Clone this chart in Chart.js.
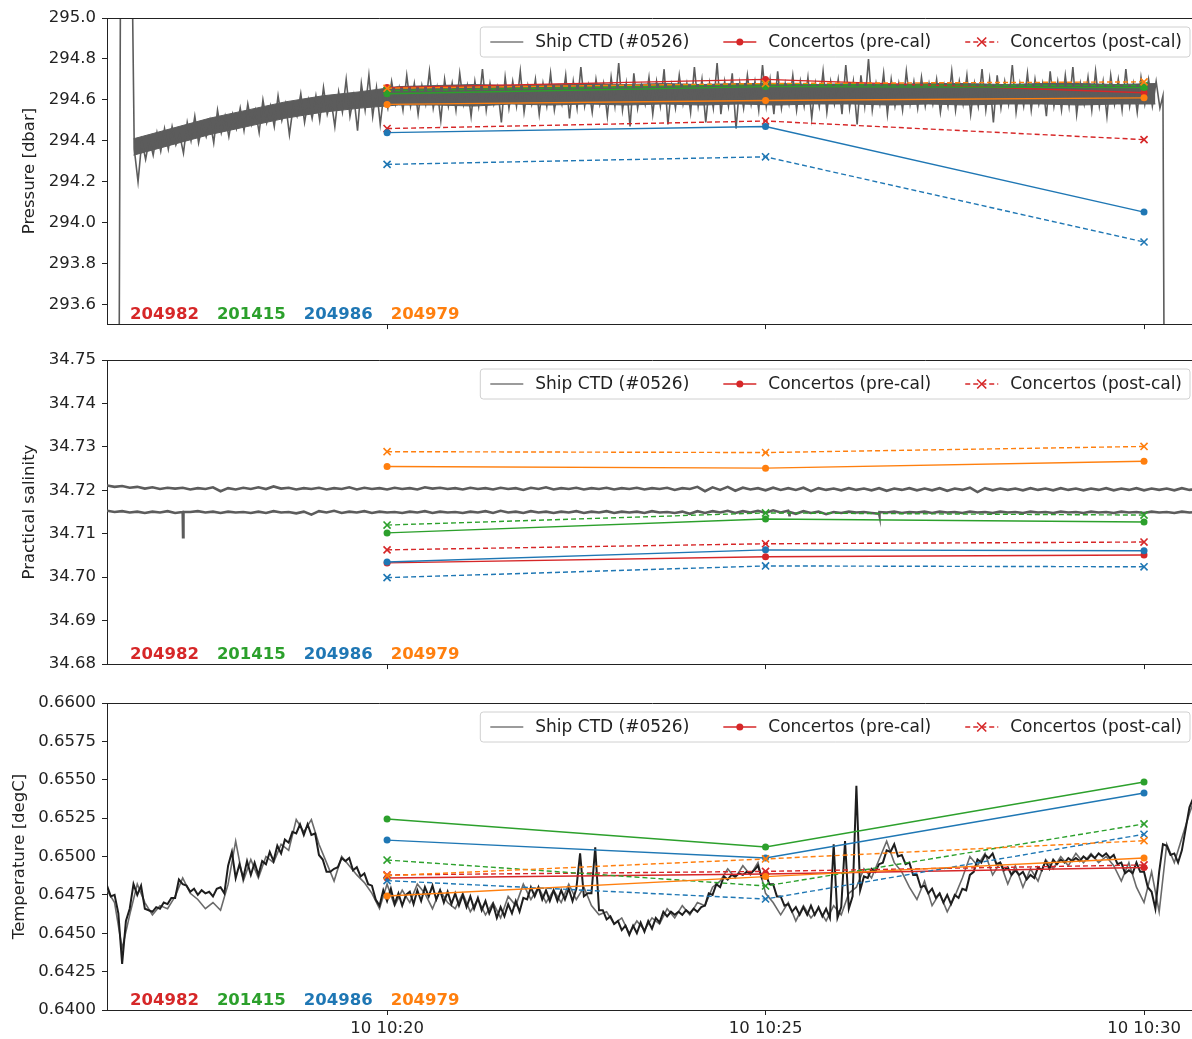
<!DOCTYPE html>
<html><head><meta charset="utf-8">
<script src="https://cdn.jsdelivr.net/npm/chart.js@4"></script>
<style>
html,body{margin:0;padding:0;background:#fff;overflow:hidden;width:1192px;height:1039px;position:relative;}
canvas{position:absolute;left:0;}
</style></head><body>
<canvas id="c1" style="top:0px"></canvas>
<canvas id="c2" style="top:340px"></canvas>
<canvas id="c3" style="top:680px"></canvas>
<script>
// ---- axes / labels ----
const xTickValues = [20, 25, 30];              // minutes after 10:00 (day 10)
const xTickLabels = ['10 10:20', '10 10:25', '10 10:30'];
const pressureTicks = [293.6, 293.8, 294.0, 294.2, 294.4, 294.6, 294.8, 295.0];
const salinityTicks = [34.68, 34.69, 34.70, 34.71, 34.72, 34.73, 34.74, 34.75];
const temperatureTicks = [0.64, 0.6425, 0.645, 0.6475, 0.65, 0.6525, 0.655, 0.6575, 0.66];
const legendLabels = ['Ship CTD (#0526)', 'Concertos (pre-cal)', 'Concertos (post-cal)'];

// ---- Concerto instruments ----
const serials = ['204982', '201415', '204986', '204979'];
const serialColors = ['#d62728', '#2ca02c', '#1f77b4', '#ff7f0e'];
const concertoTimes = [20, 25, 30];

const pressurePre = [
  [294.66, 294.70, 294.635],
  [294.63, 294.665, 294.66],
  [294.44, 294.47, 294.052],
  [294.578, 294.597, 294.61]
];
const pressurePost = [
  [294.46, 294.497, 294.406],
  [294.645, 294.675, 294.67],
  [294.285, 294.322, 293.906],
  [294.657, 294.68, 294.688]
];
const salinityPre = [
  [34.7033, 34.7047, 34.7051],
  [34.7102, 34.7134, 34.7127],
  [34.7035, 34.7063, 34.7061],
  [34.7255, 34.7251, 34.7267]
];
const salinityPost = [
  [34.7063, 34.7077, 34.7081],
  [34.7120, 34.7148, 34.7143],
  [34.6999, 34.7026, 34.7024],
  [34.7289, 34.7287, 34.7301]
];
const temperaturePre = [
  [0.64860, 0.64886, 0.64928],
  [0.65244, 0.65062, 0.65485],
  [0.65107, 0.64990, 0.65414],
  [0.64743, 0.64869, 0.64990]
];
const temperaturePost = [
  [0.64880, 0.64903, 0.64945],
  [0.64977, 0.64808, 0.65212],
  [0.64843, 0.64723, 0.65145],
  [0.64875, 0.64984, 0.65103]
];

// ---- Ship CTD traces ----
const ctdPresHeadT = [16.30, 16.46, 16.48, 16.62];
const ctdPresHeadV = [292.8, 293.3, 295.4, 295.6];
const ctdPresStart = 16.66, ctdPresStep = 0.05;
const ctdPressure = [
294.36, 294.20, 294.40, 294.31, 294.41, 294.33, 294.44,
294.35, 294.46, 294.36, 294.47, 294.38, 294.43, 294.34, 294.49, 294.40, 294.52, 294.39, 294.48, 294.42, 294.50, 294.39, 294.55, 294.44, 294.52, 294.42, 294.53,
294.46, 294.56, 294.45, 294.58, 294.48, 294.55, 294.44, 294.60, 294.49, 294.57, 294.47, 294.62, 294.50, 294.58, 294.43, 294.57, 294.52, 294.63, 294.49, 294.60,
294.51, 294.62, 294.50, 294.66, 294.53, 294.60, 294.47, 294.64, 294.54, 294.70, 294.52, 294.62, 294.45, 294.68, 294.55, 294.72, 294.52, 294.66, 294.48, 294.64,
294.56, 294.69, 294.58, 294.66, 294.55, 294.72, 294.57, 294.68, 294.53, 294.67, 294.58, 294.74, 294.56, 294.66, 294.50, 294.70, 294.57, 294.68, 294.55, 294.73,
294.58, 294.67, 294.52, 294.69, 294.57, 294.75, 294.55, 294.68, 294.58, 294.66, 294.49, 294.71, 294.56, 294.69, 294.57, 294.74, 294.54, 294.67, 294.58, 294.70,
294.53, 294.68, 294.57, 294.73, 294.55, 294.66, 294.58, 294.72, 294.51, 294.69, 294.56, 294.76, 294.57, 294.67, 294.54, 294.70, 294.58, 294.68, 294.52, 294.71,
294.57, 294.78, 294.55, 294.68, 294.47, 294.73, 294.56, 294.67, 294.58, 294.71, 294.53, 294.69, 294.57, 294.75, 294.48, 294.67, 294.56, 294.72, 294.58, 294.68,
294.54, 294.76, 294.57, 294.70, 294.49, 294.68, 294.56, 294.78, 294.53, 294.69, 294.57, 294.73, 294.46, 294.68, 294.56, 294.72, 294.58, 294.69, 294.55, 294.77,
294.57, 294.70, 294.53, 294.74, 294.56, 294.68, 294.58, 294.72, 294.55, 294.69, 294.57, 294.71, 294.51, 294.68, 294.57, 294.74, 294.54, 294.69, 294.58, 294.70,
294.53, 294.77, 294.56, 294.69, 294.48, 294.72, 294.57, 294.80, 294.55, 294.68, 294.58, 294.73, 294.53, 294.70, 294.57, 294.68, 294.55, 294.74, 294.58, 294.69,
294.56, 294.71, 294.57, 294.68, 294.58, 294.70, 294.54, 294.67, 294.57, 294.74, 294.55, 294.69, 294.58, 294.72, 294.53, 294.68, 294.57, 294.75, 294.55, 294.70,
294.49, 294.72, 294.56, 294.69, 294.58, 294.77, 294.54, 294.68, 294.57, 294.73, 294.55, 294.70, 294.58, 294.68, 294.52, 294.74, 294.57, 294.69, 294.55, 294.72,
294.57, 294.76, 294.53, 294.68, 294.58, 294.71, 294.55, 294.74, 294.57, 294.69, 294.52, 294.72, 294.58, 294.70, 294.55, 294.75, 294.57, 294.68, 294.54, 294.71,
294.58, 294.70, 294.57, 294.69, 294.56
];
const ctdPresTailT = [30.25, 30.27];
const ctdPresTailV = [294.62, 292.9];
// dense core of the pressure record (lower / upper edge), every 0.5 min
const ctdPresCoreStart = 16.65, ctdPresCoreStep = 0.5;
const ctdPresCoreLow = [294.33, 294.38, 294.43, 294.47, 294.51, 294.54, 294.56, 294.575, 294.575, 294.57, 294.58, 294.575, 294.58, 294.575,
  294.58, 294.575, 294.58, 294.575, 294.58, 294.58, 294.575, 294.58, 294.575, 294.58, 294.58, 294.575, 294.58, 294.58];
const ctdPresCoreHigh = [294.41, 294.46, 294.51, 294.55, 294.59, 294.62, 294.64, 294.665, 294.67, 294.675, 294.67, 294.675, 294.68, 294.675,
  294.68, 294.675, 294.68, 294.68, 294.675, 294.68, 294.675, 294.68, 294.68, 294.675, 294.68, 294.68, 294.675, 294.68];

const ctdSalStart = 16.30, ctdSalStep = 0.1;
const ctdSalinityUpper = [
34.7211, 34.7208, 34.7210, 34.7206, 34.7208, 34.7204, 34.7207, 34.7203, 34.7206, 34.7204,
34.7206, 34.7202, 34.7205, 34.7203, 34.7207, 34.7198, 34.7205, 34.7202, 34.7206, 34.7203,
34.7207, 34.7203, 34.7209, 34.7204, 34.7206, 34.7202, 34.7205, 34.7203, 34.7206, 34.7202,
34.7205, 34.7203, 34.7207, 34.7202, 34.7206, 34.7203, 34.7205, 34.7202, 34.7206, 34.7203,
34.7205, 34.7202, 34.7207, 34.7204, 34.7206, 34.7203, 34.7205, 34.7202, 34.7206, 34.7203,
34.7205, 34.7202, 34.7206, 34.7203, 34.7205, 34.7201, 34.7206, 34.7203, 34.7207, 34.7202,
34.7205, 34.7203, 34.7206, 34.7202, 34.7205, 34.7203, 34.7206, 34.7202, 34.7205, 34.7203,
34.7206, 34.7202, 34.7205, 34.7203, 34.7206, 34.7201, 34.7205, 34.7203, 34.7208, 34.7198,
34.7207, 34.7201, 34.7208, 34.7199, 34.7206, 34.7202, 34.7205, 34.7200, 34.7206, 34.7201,
34.7205, 34.7201, 34.7206, 34.7198, 34.7205, 34.7201, 34.7204, 34.7200, 34.7205, 34.7201,
34.7204, 34.7200, 34.7205, 34.7199, 34.7204, 34.7201, 34.7205, 34.7200, 34.7204, 34.7200,
34.7205, 34.7199, 34.7204, 34.7201, 34.7206, 34.7196, 34.7205, 34.7200, 34.7204, 34.7201,
34.7204, 34.7200, 34.7205, 34.7201, 34.7204, 34.7200, 34.7205, 34.7201, 34.7204, 34.7200,
34.7204, 34.7201, 34.7205, 34.7200, 34.7204, 34.7201, 34.7205, 34.7200, 34.7204, 34.7201,
34.7204, 34.7200, 34.7205, 34.7201, 34.7203
];
const ctdSalinityLower = [
34.7153, 34.7150, 34.7152, 34.7149, 34.7151, 34.7148, 34.7151, 34.7149, 34.7152, 34.7148,
34.7150, 34.7150, 34.7152, 34.7149, 34.7151, 34.7148, 34.7151, 34.7149, 34.7150, 34.7148,
34.7151, 34.7148, 34.7152, 34.7149, 34.7150, 34.7147, 34.7151, 34.7144, 34.7152, 34.7149,
34.7153, 34.7148, 34.7151, 34.7149, 34.7152, 34.7148, 34.7151, 34.7149, 34.7150, 34.7148,
34.7151, 34.7149, 34.7152, 34.7148, 34.7151, 34.7149, 34.7150, 34.7148, 34.7151, 34.7149,
34.7152, 34.7148, 34.7153, 34.7149, 34.7151, 34.7148, 34.7152, 34.7149, 34.7151, 34.7148,
34.7151, 34.7149, 34.7152, 34.7148, 34.7151, 34.7149, 34.7152, 34.7148, 34.7151, 34.7149,
34.7151, 34.7148, 34.7152, 34.7149, 34.7150, 34.7148, 34.7151, 34.7146, 34.7152, 34.7148,
34.7152, 34.7149, 34.7153, 34.7148, 34.7152, 34.7149, 34.7153, 34.7148, 34.7154, 34.7149,
34.7153, 34.7146, 34.7152, 34.7148, 34.7151, 34.7145, 34.7150, 34.7148, 34.7151, 34.7149,
34.7150, 34.7148, 34.7146, 34.7149, 34.7151, 34.7148, 34.7150, 34.7149, 34.7151, 34.7148,
34.7151, 34.7149, 34.7150, 34.7148, 34.7151, 34.7149, 34.7150, 34.7148, 34.7151, 34.7149,
34.7150, 34.7148, 34.7151, 34.7149, 34.7150, 34.7148, 34.7151, 34.7149, 34.7150, 34.7148,
34.7151, 34.7149, 34.7150, 34.7148, 34.7151, 34.7149, 34.7150, 34.7148, 34.7151, 34.7149,
34.7150, 34.7148, 34.7151, 34.7149, 34.7150
];
// short spikes in the lower salinity record
const ctdSalSpikeT = [17.30, 17.305, 17.31, 25.31, 25.315, 25.32, 26.50, 26.505, 26.51];
const ctdSalSpikeV = [34.7150, 34.7092, 34.7150, 34.7150, 34.7140, 34.7150, 34.7150, 34.7142, 34.7150];

const ctdTempStart = 16.30, ctdTempBlackStep = 0.05, ctdTempGrayStep = 0.1;
const ctdTempBlack = [
0.6481, 0.6474, 0.6475, 0.6463, 0.6430, 0.6458, 0.6466, 0.6482, 0.6475, 0.6481, 0.6466, 0.6465, 0.6464, 0.6467, 0.6466, 0.6470, 0.6469, 0.6473, 0.6473, 0.6485,
0.6482, 0.6481, 0.6477, 0.6479, 0.6475, 0.6478, 0.6476, 0.6477, 0.6474, 0.6479, 0.6480, 0.6476, 0.6494, 0.6503, 0.6486, 0.6495, 0.6486, 0.6497, 0.6488, 0.6496,
0.6488, 0.6497, 0.6495, 0.6503, 0.6497, 0.6507, 0.6502, 0.6511, 0.6509, 0.6516, 0.6515, 0.6521, 0.6514, 0.6521, 0.6514, 0.6515, 0.6501, 0.6498, 0.6490, 0.6490,
0.6492, 0.6493, 0.6499, 0.6497, 0.6499, 0.6491, 0.6493, 0.6487, 0.6489, 0.6482, 0.6481, 0.6472, 0.6468, 0.6478, 0.6471, 0.6479, 0.6469, 0.6476, 0.6468, 0.6475,
0.6477, 0.6469, 0.6478, 0.6471, 0.6480, 0.6474, 0.6481, 0.6472, 0.6478, 0.6470, 0.6477, 0.6469, 0.6476, 0.6468, 0.6475, 0.6467, 0.6474, 0.6466, 0.6473, 0.6465,
0.6471, 0.6463, 0.6469, 0.6460, 0.6467, 0.6461, 0.6469, 0.6463, 0.6471, 0.6464, 0.6473, 0.6472, 0.6480, 0.6474, 0.6480, 0.6472, 0.6478, 0.6471, 0.6478, 0.6471,
0.6478, 0.6472, 0.6479, 0.6471, 0.6479, 0.6502, 0.6474, 0.6476, 0.6476, 0.6506, 0.6465, 0.6465, 0.6459, 0.6461, 0.6456, 0.6458, 0.6452, 0.6455, 0.6449, 0.6455,
0.6450, 0.6457, 0.6451, 0.6458, 0.6453, 0.6460, 0.6457, 0.6464, 0.6461, 0.6464, 0.6462, 0.6464, 0.6462, 0.6465, 0.6463, 0.6466, 0.6464, 0.6467, 0.6468, 0.6476,
0.6475, 0.6482, 0.6480, 0.6487, 0.6485, 0.6488, 0.6487, 0.6489, 0.6488, 0.6490, 0.6489, 0.6491, 0.6494, 0.6486, 0.6489, 0.6482, 0.6482, 0.6474, 0.6474, 0.6468,
0.6469, 0.6464, 0.6467, 0.6462, 0.6467, 0.6462, 0.6468, 0.6462, 0.6467, 0.6461, 0.6466, 0.6460, 0.6508, 0.6460, 0.6467, 0.6510, 0.6466, 0.6474, 0.6546, 0.6478,
0.6487, 0.6486, 0.6492, 0.6490, 0.6495, 0.6496, 0.6504, 0.6503, 0.6508, 0.6500, 0.6501, 0.6495, 0.6496, 0.6488, 0.6488, 0.6480, 0.6481, 0.6476, 0.6479, 0.6473,
0.6476, 0.6470, 0.6475, 0.6469, 0.6475, 0.6473, 0.6479, 0.6478, 0.6488, 0.6490, 0.6498, 0.6496, 0.6501, 0.6499, 0.6502, 0.6495, 0.6496, 0.6491, 0.6493, 0.6488,
0.6491, 0.6488, 0.6490, 0.6485, 0.6488, 0.6486, 0.6493, 0.6491, 0.6497, 0.6492, 0.6498, 0.6495, 0.6498, 0.6496, 0.6499, 0.6497, 0.6499, 0.6497, 0.6500, 0.6498,
0.6501, 0.6499, 0.6502, 0.6500, 0.6502, 0.6499, 0.6501, 0.6495, 0.6496, 0.6489, 0.6491, 0.6489, 0.6496, 0.6490, 0.6490, 0.6480, 0.6477, 0.6466, 0.6490, 0.6508,
0.6507, 0.6501, 0.6502, 0.6496, 0.6504, 0.6518, 0.6532, 0.6538, 0.6548, 0.6550
];
const ctdTempGray = [
0.6478, 0.6470, 0.6440, 0.6462, 0.6482, 0.6470, 0.6462, 0.6468, 0.6466, 0.6474,
0.6486, 0.6476, 0.6472, 0.6466, 0.6470, 0.6465, 0.6482, 0.6510, 0.6484, 0.6498,
0.6486, 0.6500, 0.6496, 0.6508, 0.6504, 0.6524, 0.6516, 0.6524, 0.6508, 0.6496,
0.6484, 0.6500, 0.6494, 0.6488, 0.6483, 0.6476, 0.6466, 0.6482, 0.6468, 0.6478,
0.6470, 0.6482, 0.6476, 0.6466, 0.6478, 0.6470, 0.6466, 0.6476, 0.6464, 0.6472,
0.6462, 0.6470, 0.6460, 0.6474, 0.6468, 0.6482, 0.6472, 0.6480, 0.6470, 0.6478,
0.6470, 0.6482, 0.6472, 0.6480, 0.6468, 0.6462, 0.6464, 0.6456, 0.6460, 0.6450,
0.6458, 0.6452, 0.6460, 0.6456, 0.6466, 0.6460, 0.6468, 0.6462, 0.6470, 0.6468,
0.6480, 0.6484, 0.6492, 0.6486, 0.6494, 0.6488, 0.6496, 0.6476, 0.6470, 0.6462,
0.6470, 0.6458, 0.6468, 0.6460, 0.6466, 0.6458, 0.6468, 0.6462, 0.6476, 0.6480,
0.6492, 0.6486, 0.6498, 0.6510, 0.6496, 0.6490, 0.6480, 0.6472, 0.6484, 0.6468,
0.6476, 0.6464, 0.6474, 0.6486, 0.6500, 0.6494, 0.6502, 0.6488, 0.6496, 0.6482,
0.6494, 0.6480, 0.6492, 0.6484, 0.6498, 0.6492, 0.6500, 0.6494, 0.6502, 0.6496,
0.6502, 0.6496, 0.6500, 0.6494, 0.6484, 0.6496, 0.6480, 0.6470, 0.6490, 0.6464,
0.6508, 0.6496, 0.6512, 0.6528, 0.6542
];

// ---- build datasets ----
const xMin = 16.30, xMax = 30.713;
function series(start, step, vals) { return vals.map((v, i) => ({x: start + i * step, y: v})); }
function pairs(ts, vs) { return ts.map((t, i) => ({x: t, y: vs[i]})); }
function byX(a, b) { return a.x - b.x; }

function concertoSets(pre, post) {
  const sets = [];
  serials.forEach((s, i) => {
    sets.push({label: s + ' pre-cal', data: pairs(concertoTimes, pre[i]),
      borderColor: serialColors[i], backgroundColor: serialColors[i], borderWidth: 1.4,
      pointStyle: 'circle', pointRadius: 3.5, pointBorderWidth: 0, order: 50 - 2 * i});
    sets.push({label: s + ' post-cal', data: pairs(concertoTimes, post[i]),
      borderColor: serialColors[i], backgroundColor: serialColors[i], borderWidth: 1.4, borderDash: [5, 3],
      pointStyle: 'crossRot', pointRadius: 5, pointBorderWidth: 1.6, order: 49 - 2 * i});
  });
  return sets;
}
function ctdSet(data, color, width, order) {
  return {label: 'ctd', data, borderColor: color, borderWidth: width, pointRadius: 0, clip: 0, order, tension: 0, fill: false};
}

const ctdLegendColor = '#7a7a7a';
const overlayPlugin = {
  id: 'overlay',
  afterDraw(chart) {
    const {ctx, chartArea: a} = chart;
    ctx.save();
    ctx.strokeStyle = '#222'; ctx.lineWidth = 1;
    ctx.beginPath();
    ctx.moveTo(a.left, a.top + 0.5); ctx.lineTo(a.right, a.top + 0.5);
    ctx.moveTo(a.right - 0.5, a.top); ctx.lineTo(a.right - 0.5, a.bottom);
    ctx.stroke();
    // serial labels
    ctx.font = 'bold 16.5px "DejaVu Sans"';
    ctx.textBaseline = 'alphabetic'; ctx.textAlign = 'left';
    let sx = a.left + 23;
    serials.forEach((s, i) => {
      ctx.fillStyle = serialColors[i];
      ctx.fillText(s, sx, a.bottom - 5);
      sx += ctx.measureText(s).width + 18;
    });
    // legend
    ctx.font = '17px "DejaVu Sans"';
    const widths = legendLabels.map(t => ctx.measureText(t).width);
    const padL = 10, padR = 8, handle = 33, gap = 12, col = 34;
    const total = padL + widths.reduce((s, w) => s + handle + gap + w, 0) + col * 2 + padR;
    const right = a.right - 8, left = right - total, top = a.top + 9, h = 30, r = 3;
    ctx.beginPath();
    ctx.moveTo(left + r, top); ctx.lineTo(right - r, top); ctx.quadraticCurveTo(right, top, right, top + r);
    ctx.lineTo(right, top + h - r); ctx.quadraticCurveTo(right, top + h, right - r, top + h);
    ctx.lineTo(left + r, top + h); ctx.quadraticCurveTo(left, top + h, left, top + h - r);
    ctx.lineTo(left, top + r); ctx.quadraticCurveTo(left, top, left + r, top);
    ctx.closePath();
    ctx.fillStyle = 'rgba(255,255,255,0.8)'; ctx.fill();
    ctx.strokeStyle = '#d0d0d0'; ctx.lineWidth = 1; ctx.stroke();
    const cy = top + h / 2;
    let x = left + padL;
    legendLabels.forEach((lab, i) => {
      ctx.save();
      ctx.lineWidth = 1.4;
      ctx.strokeStyle = i === 0 ? ctdLegendColor : serialColors[0];
      if (i === 2) ctx.setLineDash([5, 3]);
      ctx.beginPath(); ctx.moveTo(x, cy); ctx.lineTo(x + handle, cy); ctx.stroke();
      ctx.setLineDash([]);
      const mx = x + handle / 2;
      if (i === 1) { ctx.fillStyle = serialColors[0]; ctx.beginPath(); ctx.arc(mx, cy, 3.5, 0, Math.PI * 2); ctx.fill(); }
      if (i === 2) { ctx.lineWidth = 1.6; ctx.beginPath(); ctx.moveTo(mx - 4.5, cy - 4.5); ctx.lineTo(mx + 4.5, cy + 4.5); ctx.moveTo(mx - 4.5, cy + 4.5); ctx.lineTo(mx + 4.5, cy - 4.5); ctx.stroke(); }
      ctx.restore();
      ctx.fillStyle = '#222'; ctx.textBaseline = 'middle';
      ctx.fillText(lab, x + handle + gap, cy + 1);
      x += handle + gap + widths[i] + col;
    });
    ctx.restore();
  }
};

Chart.defaults.font.family = "'DejaVu Sans', sans-serif";
Chart.defaults.font.size = 16.5;
Chart.defaults.color = '#222';

function makePanel(P) {
  const cv = document.getElementById(P.id);
  cv.width = 1207; cv.height = P.height;
  const axisLine = {display: true, drawOnChartArea: false, drawTicks: true, tickLength: 5, color: '#222', lineWidth: 1};
  new Chart(cv, {
    type: 'line',
    data: {datasets: P.datasets},
    options: {
      responsive: false, animation: false, devicePixelRatio: 1,
      layout: {padding: {top: P.padTop, right: 9, bottom: 0, left: 0}},
      plugins: {legend: {display: false}, tooltip: {enabled: false}},
      scales: {
        x: {type: 'linear', min: xMin, max: xMax,
          afterBuildTicks: s => { s.ticks = xTickValues.map(v => ({value: v})); },
          afterFit: s => { s.height = P.xAxisH; },
          ticks: {display: P.showX, autoSkip: false, maxRotation: 0, padding: 4, color: '#222',
            callback: (v, i) => xTickLabels[i]},
          grid: axisLine, border: {display: true, color: '#222', width: 1}},
        y: {type: 'linear', min: P.yMin, max: P.yMax,
          afterBuildTicks: s => { s.ticks = P.yTicks.map(v => ({value: v})); },
          afterFit: s => { s.width = 107; },
          ticks: {padding: 6, color: '#222', callback: v => Number(v).toFixed(P.dec)},
          title: {display: true, text: P.title, color: '#222', padding: {top: P.titlePad, bottom: 0}, font: {size: 16.5}},
          grid: axisLine, border: {display: true, color: '#222', width: 1}}
      }
    },
    plugins: [overlayPlugin]
  });
}

const presData = pairs(ctdPresHeadT, ctdPresHeadV)
  .concat(series(ctdPresStart, ctdPresStep, ctdPressure))
  .concat(pairs(ctdPresTailT, ctdPresTailV));
const presCoreHigh = Object.assign(ctdSet(series(ctdPresCoreStart, ctdPresCoreStep, ctdPresCoreHigh), '#5c5c5c', 1, 102),
  {fill: '+1', backgroundColor: '#5c5c5c'});
const presCoreLow = ctdSet(series(ctdPresCoreStart, ctdPresCoreStep, ctdPresCoreLow), '#5c5c5c', 1, 103);

makePanel({id: 'c1', height: 340, padTop: 18, xAxisH: 15, showX: false,
  yMin: 293.505, yMax: 295.0, yTicks: pressureTicks, dec: 1, title: 'Pressure [dbar]', titlePad: 20,
  datasets: [ctdSet(presData, '#5c5c5c', 1.6, 100), presCoreHigh, presCoreLow].concat(concertoSets(pressurePre, pressurePost))});

const salLower = series(ctdSalStart, ctdSalStep, ctdSalinityLower).concat(pairs(ctdSalSpikeT, ctdSalSpikeV)).sort(byX);
makePanel({id: 'c2', height: 340, padTop: 20, xAxisH: 14, showX: false,
  yMin: 34.68, yMax: 34.75, yTicks: salinityTicks, dec: 2, title: 'Practical salinity', titlePad: 20,
  datasets: [ctdSet(series(ctdSalStart, ctdSalStep, ctdSalinityUpper), '#5c5c5c', 2.6, 100),
             ctdSet(salLower, '#5c5c5c', 2.6, 101)]
    .concat(concertoSets(salinityPre, salinityPost))});

makePanel({id: 'c3', height: 359, padTop: 23, xAxisH: 29, showX: true,
  yMin: 0.64, yMax: 0.66, yTicks: temperatureTicks, dec: 4, title: 'Temperature [degC]', titlePad: 10,
  datasets: [ctdSet(series(ctdTempStart, ctdTempBlackStep, ctdTempBlack), '#1e1e1e', 2.0, 100),
             ctdSet(series(ctdTempStart, ctdTempGrayStep, ctdTempGray), '#6a6a6a', 1.6, 101)]
    .concat(concertoSets(temperaturePre, temperaturePost))});
</script>
</body></html>
